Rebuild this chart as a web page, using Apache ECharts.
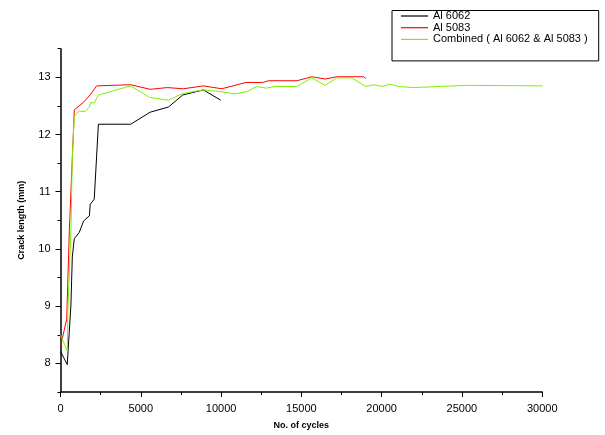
<!DOCTYPE html>
<html>
<head>
<meta charset="utf-8">
<script src="https://cdn.jsdelivr.net/npm/echarts@6/dist/echarts.min.js"></script>
<style>
html,body{margin:0;padding:0;background:#fff;}
#chart{width:605px;height:435px;}
</style>
</head>
<body>
<div id="chart"></div>
<script>
// [cycles, crack length mm]
var al6062 = [[0,8.21],[420,7.98],[650,9.02],[735,9.86],[860,10.18],[1170,10.29],[1440,10.49],[1800,10.58],[1850,10.78],[2100,10.87],[2360,12.18],[4370,12.18],[5580,12.39],[6720,12.48],[7610,12.69],[8900,12.78],[9980,12.6]];
var al5083 = [[0,8.30],[385,8.77],[550,10.32],[860,12.43],[1420,12.56],[1840,12.69],[2250,12.85],[4370,12.87],[5580,12.79],[6650,12.82],[7650,12.80],[8900,12.85],[10040,12.80],[10870,12.86],[11550,12.91],[12600,12.91],[12950,12.94],[14720,12.94],[15650,13.01],[16480,12.97],[17210,13.01],[18870,13.01],[19010,12.98]];
var combined = [[0,8.50],[420,8.22],[470,8.98],[650,10.32],[735,11.59],[860,12.32],[1170,12.41],[1530,12.40],[1800,12.48],[1880,12.56],[2090,12.55],[2360,12.69],[4370,12.85],[5530,12.65],[6720,12.60],[7650,12.72],[8900,12.78],[9990,12.75],[10870,12.71],[11600,12.75],[12220,12.84],[12800,12.81],[13360,12.84],[14720,12.84],[15650,12.99],[16480,12.86],[17210,12.99],[18140,12.99],[19010,12.84],[19530,12.87],[20010,12.84],[20530,12.88],[21050,12.84],[21980,12.82],[23640,12.84],[25310,12.86],[30040,12.85]];
var yMajorTicks = [8,9,10,11,12,13];

var font = 'Liberation Sans, Arial, sans-serif';
var chart = echarts.init(document.getElementById('chart'));
chart.setOption({
    animation:false,
    legend:{
        orient:'vertical',
        left:392,
        top:10.5,
        padding:[0,11,16,9],
        itemGap:0.7,
        itemWidth:27,
        itemHeight:1.2,
        icon:'rect',
        borderColor:'#000',
        borderWidth:1,
        textStyle:{fontFamily:font,fontSize:11,color:'#000',lineHeight:11}
    },
    grid:{left:60.5,right:62.8,top:48.7,bottom:37.7},
    xAxis:{
        type:'value',
        min:0,
        max:30000,
        interval:5000,
        name:'No. of cycles',
        nameLocation:'middle',
        nameGap:29,
        nameTextStyle:{fontFamily:font,fontSize:9,fontWeight:'bold',color:'#000'},
        axisLine:{lineStyle:{color:'#000',width:1.5}},
        axisTick:{length:5,lineStyle:{color:'#000'}},
        minorTick:{show:true,splitNumber:2,length:3,lineStyle:{color:'#000'}},
        splitLine:{show:false},
        axisLabel:{fontFamily:font,fontSize:11,color:'#000',margin:11,formatter:function(v){return String(v);}}
    },
    yAxis:[{
        type:'value',
        min:7.5,
        max:13.5,
        name:'Crack length (mm)',
        nameLocation:'middle',
        nameGap:34,
        nameTextStyle:{fontFamily:font,fontSize:9,fontWeight:'bold',color:'#000'},
        axisLine:{show:true,lineStyle:{color:'#000',width:1.5}},
        axisTick:{show:true,length:5,customValues:yMajorTicks,lineStyle:{color:'#000'}},
        splitLine:{show:false},
        axisLabel:{fontFamily:font,fontSize:11,color:'#000',margin:10,customValues:yMajorTicks}
    },{
        type:'value',
        min:7.5,
        max:13.5,
        interval:0.5,
        position:'left',
        axisLine:{show:false},
        axisTick:{show:true,length:3,lineStyle:{color:'#000'}},
        axisLabel:{show:false},
        splitLine:{show:false}
    }],
    series:[{
        name:'Al 6062',
        type:'line',
        data:al6062,
        symbol:'none',
        color:'#000000',
        lineStyle:{width:1}
    },{
        name:'Al 5083',
        type:'line',
        data:al5083,
        symbol:'none',
        color:'#ff0000',
        lineStyle:{width:1}
    },{
        name:'Combined ( Al 6062 & Al 5083 )',
        type:'line',
        data:combined,
        symbol:'none',
        color:'#80f000',
        lineStyle:{width:1}
    }]
});
</script>
</body>
</html>
